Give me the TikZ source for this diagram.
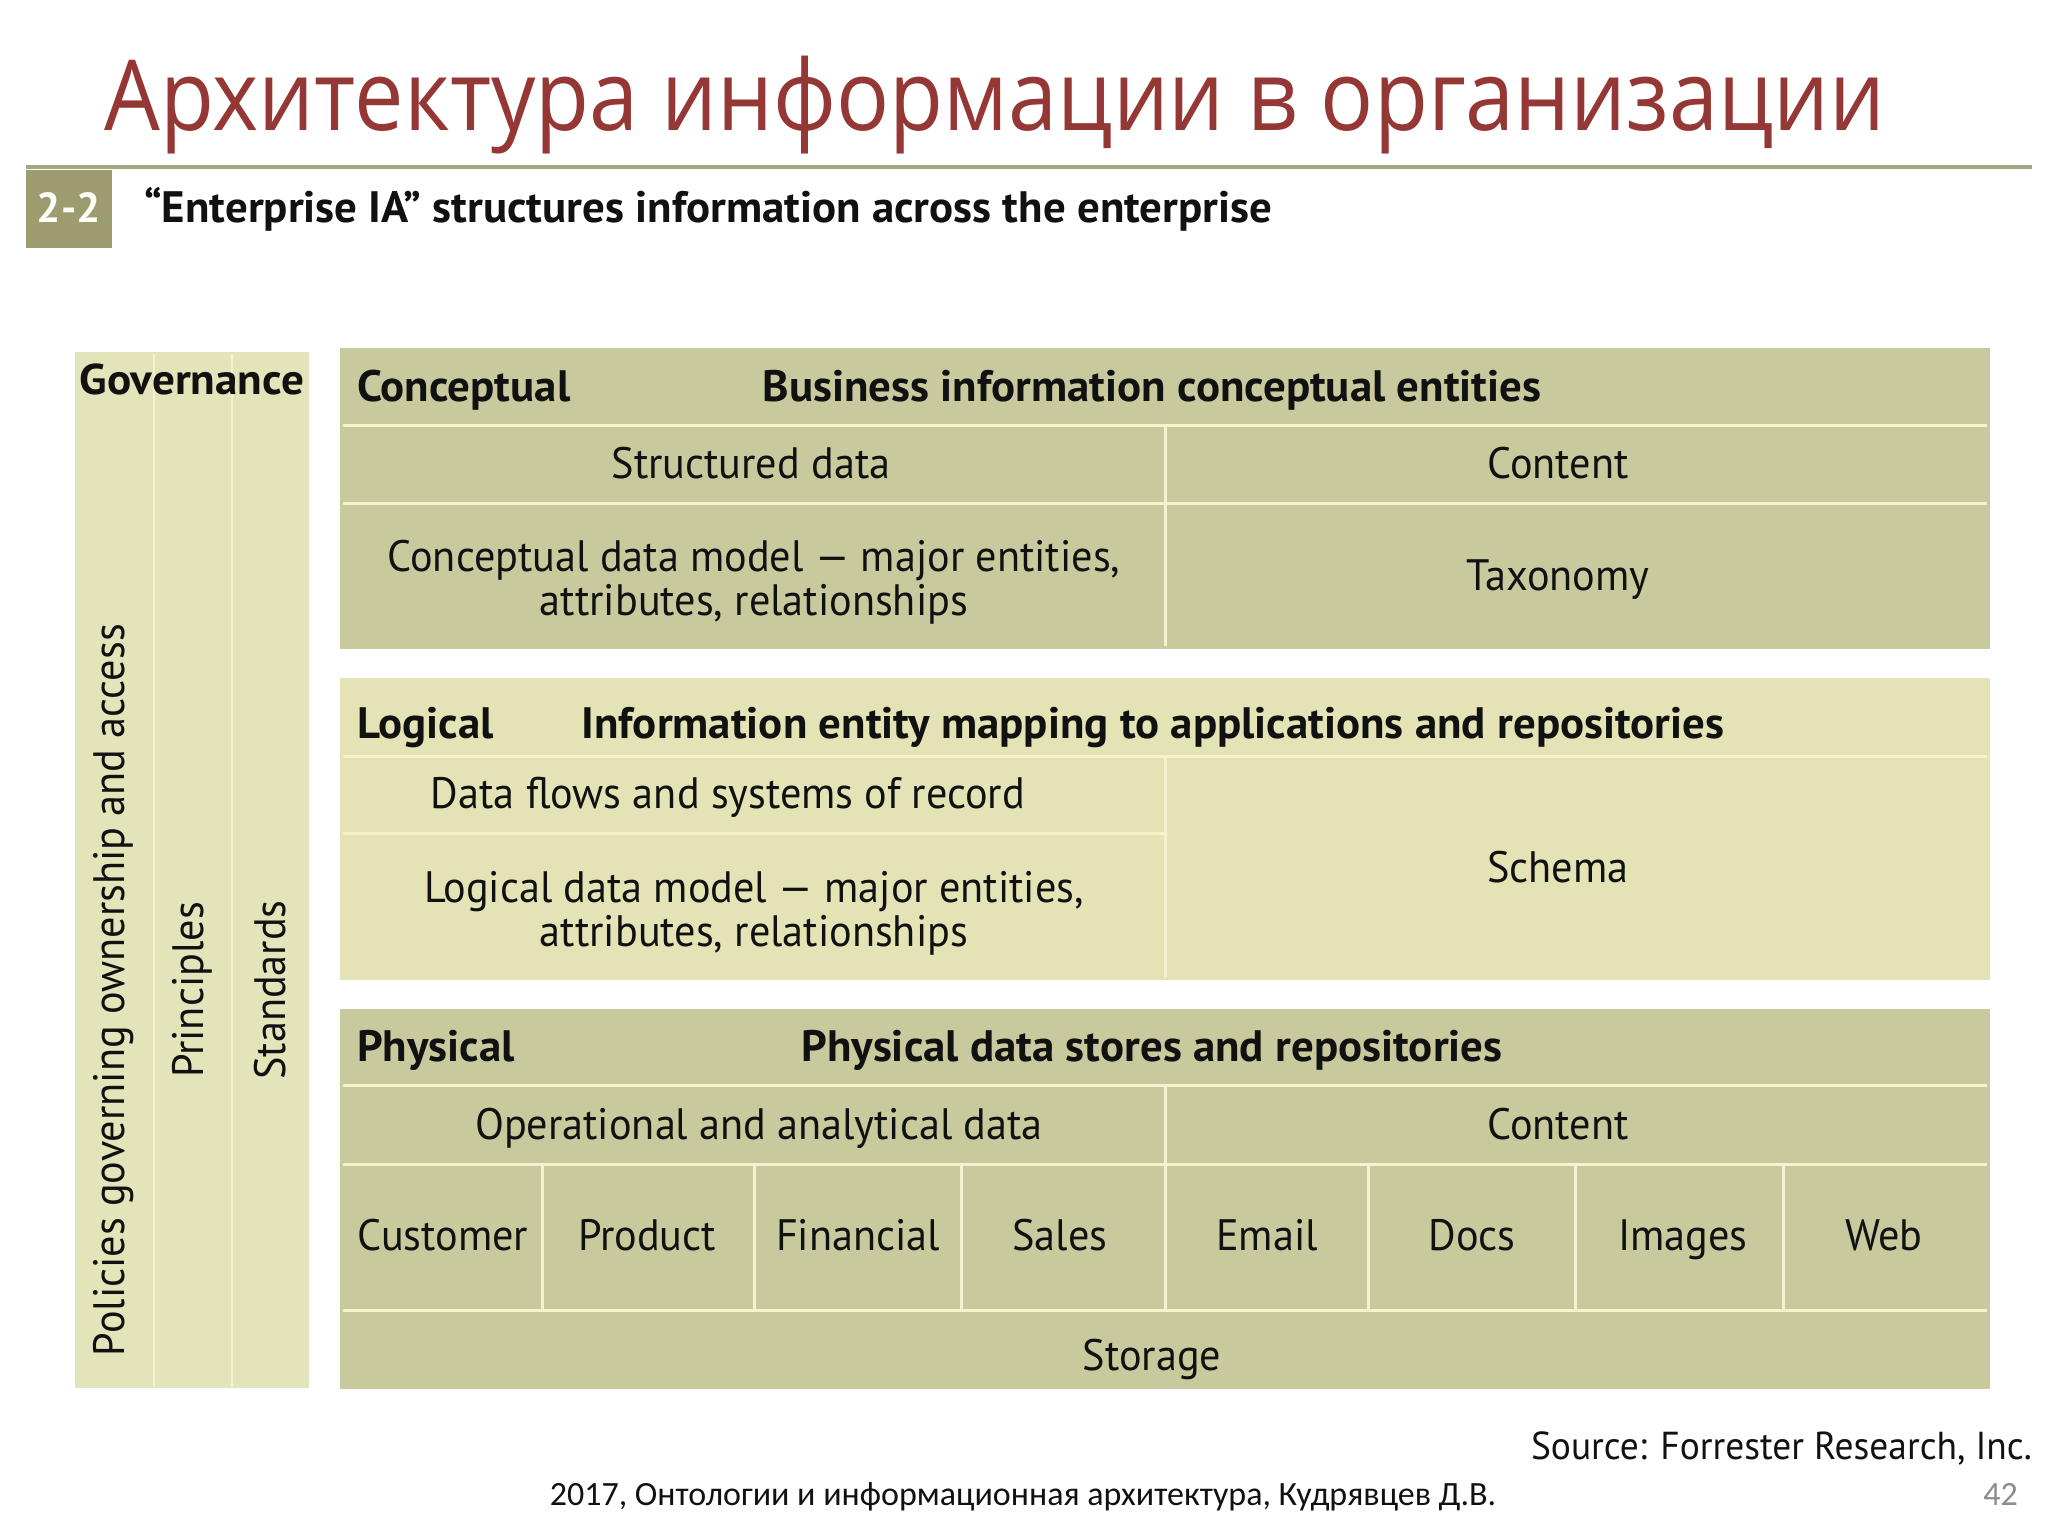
\documentclass[tikz,border=0pt]{standalone}
\usepackage{fontspec}
\setmainfont{PT Sans}
\newfontfamily\condf[FakeStretch=0.96]{PT Sans}
\newfontfamily\boldf[FakeStretch=1.02]{PT Sans}
\newfontfamily\widef[FakeStretch=1.05]{PT Sans}
\newfontfamily\titlef[FakeStretch=0.9]{Open Sans}
\newfontfamily\footf{Carlito}
\definecolor{titlered}{HTML}{953735}
\definecolor{olivedark}{HTML}{C9C99E}
\definecolor{olivelight}{HTML}{E3E3B5}
\definecolor{govfill}{HTML}{E4E4BA}
\definecolor{divider}{HTML}{F5F3CD}
\definecolor{rulecol}{HTML}{A6A685}
\definecolor{boxcol}{HTML}{9C9C6E}
\definecolor{ink}{HTML}{111111}
\tikzset{
  cell/.style={draw=divider, line width=3pt, inner sep=0pt, outer sep=0pt, anchor=north west},
  dark/.style={cell, fill=olivedark},
  light/.style={cell, fill=olivelight},
  gov/.style={draw=divider, line width=2pt, fill=govfill, inner sep=0pt, outer sep=0pt, anchor=north west},
  txt/.style={text=ink, inner sep=0pt, font=\condf\fontsize{44}{44}\selectfont, align=center},
  hdr/.style={text=ink, inner sep=0pt, font=\boldf\bfseries\fontsize{44}{44}\selectfont},
  frame/.style={line width=3pt},
}
\newcommand{\cellbox}[6]{\node[#1, minimum width=#4pt-#2pt, minimum height=#5pt-#3pt] (#6) at (#2,#3) {};}
\begin{document}
\begin{tikzpicture}[x=1pt,y=-1pt]
\useasboundingbox[fill=white] (0,0) rectangle (2048,1536);
% title
\node[anchor=base west, inner sep=0pt, text=titlered, font=\titlef\fontsize{98}{98}\selectfont] (title) at (104,131) {Архитектура информации в организации};
\coordinate (ruleL) at (26,167);
\coordinate (ruleR) at (2032,167);
\draw[rulecol, line width=4pt] (ruleL) -- (ruleR);
\node[fill=boxcol, minimum width=86pt, minimum height=78pt, inner sep=0pt, anchor=north west] (fig) at (26,170) {};
\node[text=white!92!olivelight, font=\boldf\bfseries\fontsize{42}{42}\selectfont, inner sep=0pt, anchor=base] (figlbl) at (69,222) {2-2};
\node[hdr, anchor=base west] (subtitle) at (144,222) {“Enterprise IA” structures information across the enterprise};
% governance
\cellbox{gov}{76}{353}{154}{1387}{g1}
\cellbox{gov}{154}{353}{232}{1387}{g2}
\cellbox{gov}{232}{353}{308}{1387}{g3}
\draw[govfill, line width=2pt] (g1.north west) rectangle (g3.south east);
\node[text=ink, inner sep=0pt, font=\widef\bfseries\fontsize{43}{43}\selectfont, anchor=base] (govt) at (192,394) {Governance};
\node[txt, rotate=90] (pol) at (114,990) {Policies governing ownership and access};
\node[txt, rotate=90] (pri) at (192,990) {Principles};
\node[txt, rotate=90] (std) at (270,990) {Standards};
% conceptual
\cellbox{dark}{341}{349}{1988}{425}{ch}
\cellbox{dark}{341}{425}{1165}{503}{cs}
\cellbox{dark}{1165}{425}{1988}{503}{cc}
\cellbox{dark}{341}{503}{1165}{647}{cm}
\cellbox{dark}{1165}{503}{1988}{647}{ct}
\draw[olivedark, frame] (ch.north west) rectangle (ct.south east);
\node[hdr, anchor=base west] (cht1) at (357,401) {Conceptual};
\node[hdr, anchor=base] (cht2) at (1152,401) {Business information conceptual entities};
\node[txt, anchor=base] (cst) at (751,478) {Structured data};
\node[txt, anchor=base] (cct) at (1558,478) {Content};
\node[txt] (cmt) at (754,582) {Conceptual data model — major entities,\\attributes, relationships};
\node[txt, anchor=base] (ctt) at (1558,590) {Taxonomy};
% logical
\cellbox{light}{341}{679}{1988}{756}{lh}
\cellbox{light}{341}{756}{1165}{833}{lf}
\cellbox{light}{341}{833}{1165}{978}{lm}
\cellbox{light}{1165}{756}{1988}{978}{ls}
\draw[olivelight, frame] (lh.north west) rectangle (ls.south east);
\node[hdr, anchor=base west] (lht1) at (357,738) {Logical};
\node[hdr, anchor=base] (lht2) at (1153,738) {Information entity mapping to applications and repositories};
\node[txt, anchor=base] (lft) at (728,808) {Data flows and systems of record};
\node[txt] (lmt) at (754,913) {Logical data model — major entities,\\attributes, relationships};
\node[txt, anchor=base] (lst) at (1558,882) {Schema};
% physical
\cellbox{dark}{341}{1010}{1988}{1085}{ph}
\cellbox{dark}{341}{1085}{1165}{1164}{po}
\cellbox{dark}{1165}{1085}{1988}{1164}{pc}
\cellbox{dark}{341}{1164}{542}{1310}{p1}
\cellbox{dark}{542}{1164}{754}{1310}{p2}
\cellbox{dark}{754}{1164}{961}{1310}{p3}
\cellbox{dark}{961}{1164}{1165}{1310}{p4}
\cellbox{dark}{1165}{1164}{1368}{1310}{p5}
\cellbox{dark}{1368}{1164}{1575}{1310}{p6}
\cellbox{dark}{1575}{1164}{1783}{1310}{p7}
\cellbox{dark}{1783}{1164}{1988}{1310}{p8}
\cellbox{dark}{341}{1310}{1988}{1387}{pst}
\draw[olivedark, frame] (ph.north west) rectangle (pst.south east);
\node[hdr, anchor=base west] (pht1) at (357,1061) {Physical};
\node[hdr, anchor=base] (pht2) at (1152,1061) {Physical data stores and repositories};
\node[txt, anchor=base] (pot) at (759,1139) {Operational and analytical data};
\node[txt, anchor=base] (pct) at (1558,1139) {Content};
\node[txt, anchor=base] (t1) at (443,1250) {Customer};
\node[txt, anchor=base] (t2) at (647,1250) {Product};
\node[txt, anchor=base] (t3) at (858,1250) {Financial};
\node[txt, anchor=base] (t4) at (1060,1250) {Sales};
\node[txt, anchor=base] (t5) at (1267,1250) {Email};
\node[txt, anchor=base] (t6) at (1472,1250) {Docs};
\node[txt, anchor=base] (t7) at (1683,1250) {Images};
\node[txt, anchor=base] (t8) at (1884,1250) {Web};
\node[txt, anchor=base] (stt) at (1152,1370) {Storage};
% footer
\node[text=ink, inner sep=0pt, font=\condf\fontsize{39}{39}\selectfont, anchor=base east] (src) at (2032,1459) {Source: Forrester Research, Inc.};
\node[text=ink, inner sep=0pt, font=\footf\fontsize{34}{34}\selectfont, anchor=base] (foot) at (1023,1505) {2017, Онтологии и информационная архитектура, Кудрявцев Д.В.};
\node[text=gray!90, inner sep=0pt, font=\footf\fontsize{34}{34}\selectfont, anchor=base east] (pg) at (2018,1505) {42};
\end{tikzpicture}
\end{document}
